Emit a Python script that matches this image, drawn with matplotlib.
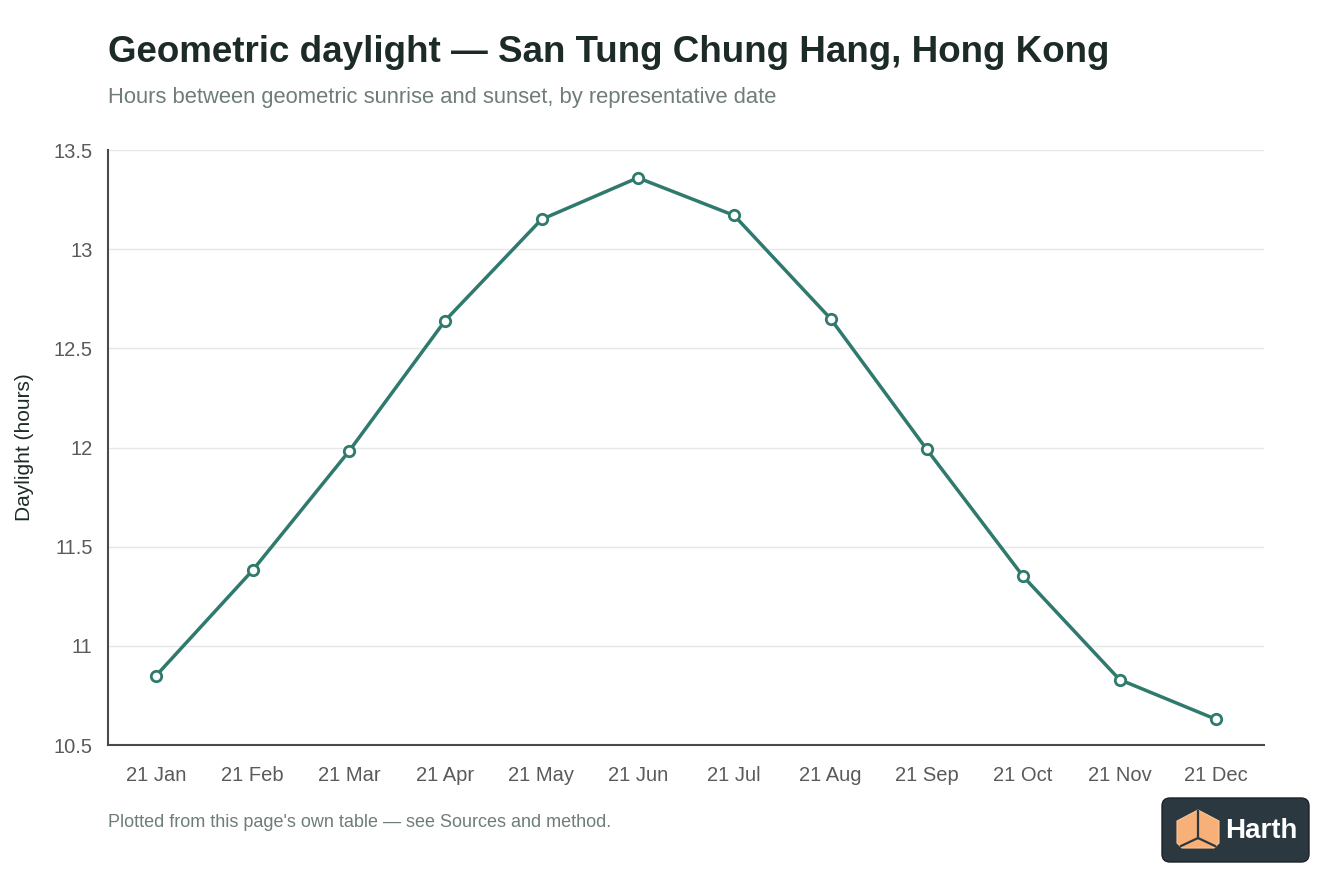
import matplotlib.pyplot as plt
from matplotlib.patches import FancyBboxPatch, Polygon

# --- Data ---
dates = ['21 Jan', '21 Feb', '21 Mar', '21 Apr', '21 May', '21 Jun',
         '21 Jul', '21 Aug', '21 Sep', '21 Oct', '21 Nov', '21 Dec']
daylight_hours = [10.85, 11.38, 11.98, 12.64, 13.15, 13.36,
                  13.17, 12.65, 11.99, 11.35, 10.83, 10.63]
y_ticks = [10.5, 11, 11.5, 12, 12.5, 13, 13.5]
y_tick_labels = ['10.5', '11', '11.5', '12', '12.5', '13', '13.5']

LINE_COLOR = '#2f7a6d'
TEXT_DARK = '#1d2b28'
TEXT_GREY = '#6e7d7a'
TICK_GREY = '#5a5a5a'

plt.rcParams['font.family'] = ['Liberation Sans', 'DejaVu Sans']

fig = plt.figure(figsize=(13.44, 8.96), dpi=100)
ax = fig.add_axes([108 / 1344, 1 - 745 / 896, (1264 - 108) / 1344, (745 - 150) / 896])

x = list(range(len(dates)))
ax.plot(x, daylight_hours, color=LINE_COLOR, linewidth=2.5, marker='o',
        markersize=7.5, markerfacecolor='white', markeredgecolor=LINE_COLOR,
        markeredgewidth=2, zorder=3)

ax.set_xlim(-0.5, len(dates) - 0.5)
ax.set_ylim(10.5, 13.5)
ax.set_xticks(x)
ax.set_xticklabels(dates)
ax.set_yticks(y_ticks)
ax.set_yticklabels(y_tick_labels)
ax.tick_params(axis='both', length=0, labelsize=14.5, labelcolor=TICK_GREY)
ax.tick_params(axis='x', pad=15)
ax.tick_params(axis='y', pad=11)

ax.grid(axis='y', color='#e6e8e8', linewidth=1)
ax.set_axisbelow(True)
for side in ['top', 'right']:
    ax.spines[side].set_visible(False)
for side in ['left', 'bottom']:
    ax.spines[side].set_color('#4a4a4a')
    ax.spines[side].set_linewidth(1.5)

ax.set_ylabel('Daylight (hours)', fontsize=15, color=TEXT_DARK, labelpad=14)

# --- Titles and footer ---
fig.text(108 / 1344, 1 - 52 / 896, 'Geometric daylight \u2014 San Tung Chung Hang, Hong Kong',
         fontsize=26.5, fontweight='bold', color=TEXT_DARK, va='center', ha='left')
fig.text(108 / 1344, 1 - 97 / 896, 'Hours between geometric sunrise and sunset, by representative date',
         fontsize=15.8, color=TEXT_GREY, va='center', ha='left')
fig.text(108 / 1344, 1 - 822 / 896, "Plotted from this page's own table \u2014 see Sources and method.",
         fontsize=13, color=TEXT_GREY, va='center', ha='left')

# --- Logo badge ---
logo = fig.add_axes([0, 0, 1, 1], facecolor='none')
logo.set_xlim(0, 1344)
logo.set_ylim(896, 0)
logo.axis('off')
logo.add_patch(FancyBboxPatch((1162, 798), 147, 64, boxstyle='round,pad=0,rounding_size=8',
                              facecolor='#2b3840', edgecolor='#1a2228', linewidth=1))
orange = '#f7b077'
dark = '#2b3840'
logo.add_patch(Polygon([(1198, 810), (1177, 821), (1177, 843), (1182, 848),
                        (1214, 848), (1219, 843), (1219, 821)],
                       closed=True, facecolor=orange, edgecolor='#f9c79a', linewidth=0.8))
logo.plot([1198, 1198], [811, 838], color=dark, linewidth=1.6)
logo.plot([1181, 1198, 1215], [846, 838, 846], color=dark, linewidth=1.6)
logo.text(1225, 831, 'Harth', fontsize=20, fontweight='bold', color='white',
          va='center', ha='left')

fig.savefig('out.png', dpi=100)
